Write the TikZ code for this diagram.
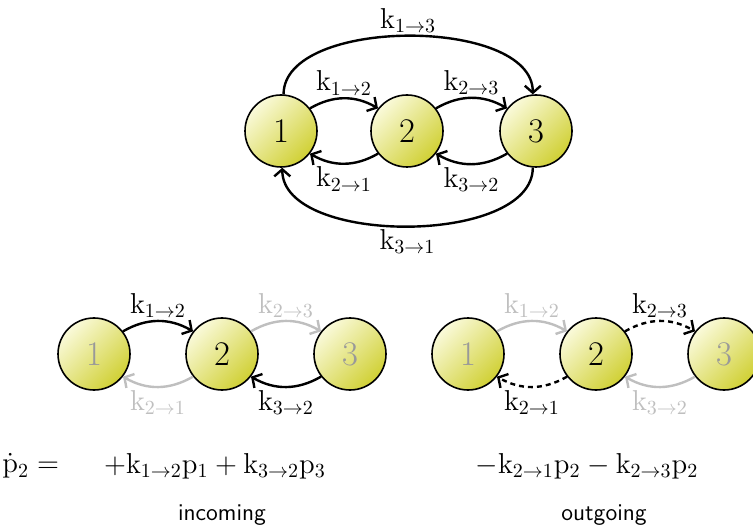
\documentclass[tikz,border=0pt]{standalone}
\usepackage{tikz}
\usetikzlibrary{arrows.meta}
\definecolor{ballhi}{RGB}{250,250,218}
\definecolor{balllo}{RGB}{208,208,52}
\newcommand{\kr}[2]{\mathrm{k}_{#1\to#2}}

\begin{document}
\begin{tikzpicture}[
    x=0.5pt, y=0.5pt,
    state/.style={
        circle,
        draw, line width=0.8pt,
        top color=ballhi, bottom color=balllo,  % pale top-left, darker bottom-right
        shading angle=45,
        minimum size=36pt,
        inner sep=0pt,
        font=\LARGE
    },
    dim/.style={text=black!40},
    flow/.style={line width=1.2pt, -{Straight Barb[length=3.5pt,width=8pt]}},
    faint/.style={flow, draw=black!25},
    leave/.style={flow, dash pattern=on 2.5pt off 2pt},
    rate/.style={font=\Large, inner sep=1pt},
    grayrate/.style={rate, text=black!25}
]
\useasboundingbox (0,0) rectangle (753,530);

% full network
\node[state] (a1) at (281,399) {1};
\node[state] (a2) at (407,399) {2};
\node[state] (a3) at (536,399) {3};

\draw[flow] (a1.38) to[bend left=30] node[rate,above] (a12) {$\kr12$} (a2.142);
\draw[flow] (a2.38) to[bend left=30] node[rate,above] (a23) {$\kr23$} (a3.142);
\draw[flow] (a2.-142) to[bend left=30] node[rate,below] (a21) {$\kr21$} (a1.-38);
\draw[flow] (a3.-142) to[bend left=30] node[rate,below] (a32) {$\kr32$} (a2.-38);
\draw[flow] (a1.86) to[out=90,in=90,looseness=0.8] node[rate,above] (a13) {$\kr13$} (a3.95);
\draw[flow] (a3.-95) to[out=-90,in=-90,looseness=0.8] node[rate,below] (a31) {$\kr31$} (a1.-88);

% incoming
\node[state,dim] (b1) at (94,176) {1};
\node[state] (b2) at (222,176) {2};
\node[state,dim] (b3) at (350,176) {3};

\draw[flow] (b1.38) to[bend left=30] node[rate,above] (b12) {$\kr12$} (b2.142);
\draw[faint] (b2.38) to[bend left=30] node[grayrate,above] (b23) {$\kr23$} (b3.142);
\draw[faint] (b2.-142) to[bend left=30] node[grayrate,below] (b21) {$\kr21$} (b1.-38);
\draw[flow] (b3.-142) to[bend left=30] node[rate,below] (b32) {$\kr32$} (b2.-38);

% outgoing
\node[state,dim] (c1) at (468,176) {1};
\node[state] (c2) at (596,176) {2};
\node[state,dim] (c3) at (724,176) {3};

\draw[faint] (c1.38) to[bend left=30] node[grayrate,above] (c12) {$\kr12$} (c2.142);
\draw[leave] (c2.38) to[bend left=30] node[rate,above] (c23) {$\kr23$} (c3.142);
\draw[leave] (c2.-142) to[bend left=30] node[rate,below] (c21) {$\kr21$} (c1.-38);
\draw[faint] (c3.-142) to[bend left=30] node[grayrate,below] (c32) {$\kr32$} (c2.-38);

% master equation
\node[font=\Large, anchor=west, inner sep=0pt] (lhs) at (2,64) {$\dot{\mathrm{p}}_2 =$};
\node[font=\Large] (gain) at (215,64) {$+\kr12\mathrm{p}_1 + \kr32\mathrm{p}_3$};
\node[font=\Large] (loss) at (587,64) {$-\kr21\mathrm{p}_2 - \kr23\mathrm{p}_2$};
\node[font=\large\sffamily] (inc) at (222,15) {incoming};
\node[font=\large\sffamily] (outg) at (604,15) {outgoing};
\end{tikzpicture}
\end{document}
